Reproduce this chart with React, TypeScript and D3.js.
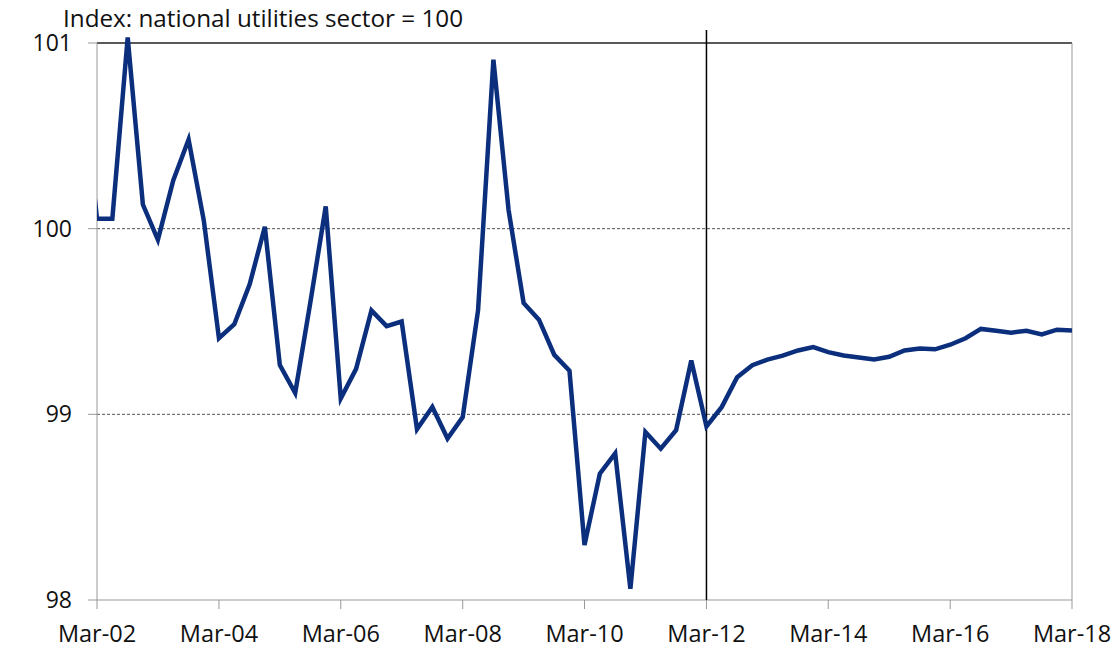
import React from 'react';
import * as d3 from 'd3';

// quarterly index values, Dec-01 .. Mar-18 (first one falls left of the axis and is clipped)
const firstQuarter = new Date(2001, 11, 1);
const indexValues = [
  100.8,
  100.054, 100.054, 101.03, 100.13,
  99.94, 100.26, 100.48, 100.045,
  99.41, 99.485, 99.7, 100.01,
  99.265, 99.115, 99.61, 100.12,
  99.085, 99.245, 99.56, 99.475,
  99.5, 98.92, 99.04, 98.87,
  98.985, 99.56, 100.91, 100.1,
  99.6, 99.51, 99.32, 99.235,
  98.296, 98.68, 98.79, 98.06,
  98.905, 98.815, 98.915, 99.29,
  98.935, 99.04, 99.2, 99.265,
  99.295, 99.316, 99.344, 99.362,
  99.335, 99.317, 99.306, 99.295,
  99.31, 99.344, 99.355, 99.35,
  99.375, 99.41, 99.46, 99.45,
  99.44, 99.45, 99.43, 99.456,
  99.452,
];
const yTicks = [98, 99, 100, 101];
const gridValues = [99, 100];
const xTickYears = [2002, 2004, 2006, 2008, 2010, 2012, 2014, 2016, 2018];
const markerYear = 2012;
const title = 'Index: national utilities sector = 100';

const W = 1119;
const H = 648;
const left = 97;
const right = 1072;
const top = 43;
const bottom = 600;
const font = "'Open Sans', 'Noto Sans', sans-serif";

const App: React.FC = () => {
  const x = d3.scaleTime()
    .domain([new Date(2002, 2, 1), new Date(2018, 2, 1)])
    .range([left, right]);
  const y = d3.scaleLinear().domain([98, 101]).range([bottom, top]);

  const points = indexValues.map((v, i) => ({
    date: d3.timeMonth.offset(firstQuarter, i * 3),
    value: v,
  }));

  const line = d3.line<{ date: Date; value: number }>()
    .x((d) => x(d.date))
    .y((d) => y(d.value));

  const markerX = x(new Date(markerYear, 2, 1));

  return (
    <svg width={W} height={H} style={{ position: 'absolute', left: 0, top: 0, background: '#fff' }}>
      <defs>
        <clipPath id="plot">
          <rect x={left} y={top - 6} width={right - left + 4} height={bottom - top + 6} />
        </clipPath>
      </defs>

      <text x={63} y={27} fontFamily={font} fontSize={24} fill="#111" textLength={400}
        lengthAdjust="spacingAndGlyphs">{title}</text>

      {gridValues.map((g) => (
        <line key={g} x1={left} x2={right} y1={y(g)} y2={y(g)}
          stroke="#555" strokeWidth={1} strokeDasharray="3,2" />
      ))}

      {/* frame */}
      <line x1={left} x2={right} y1={top} y2={top} stroke="#222" strokeWidth={1.3} />
      <line x1={right} x2={right} y1={top} y2={bottom} stroke="#999" strokeWidth={1} />
      <line x1={left} x2={left} y1={top} y2={bottom} stroke="#999" strokeWidth={1} />
      <line x1={left} x2={right} y1={bottom} y2={bottom} stroke="#999" strokeWidth={1} />

      {yTicks.map((t) => (
        <g key={t}>
          <line x1={left - 9} x2={left} y1={y(t)} y2={y(t)} stroke="#999" />
          <text x={72} y={y(t) + 8} textAnchor="end" fontFamily={font} fontSize={23} fill="#111">{t}</text>
        </g>
      ))}

      {xTickYears.map((yr) => {
        const tx = x(new Date(yr, 2, 1));
        return (
          <g key={yr}>
            <line x1={tx} x2={tx} y1={bottom} y2={bottom + 9} stroke="#999" />
            <text x={tx} y={642} textAnchor="middle" fontFamily={font} fontSize={23.5} fill="#111">
              {`Mar-${String(yr % 100).padStart(2, '0')}`}
            </text>
          </g>
        );
      })}

      <line x1={markerX} x2={markerX} y1={30} y2={bottom} stroke="#000" strokeWidth={1.5} />

      <path d={line(points) ?? ''} fill="none" stroke="#0b2f7d" strokeWidth={4.5}
        strokeLinejoin="miter" clipPath="url(#plot)" />
    </svg>
  );
};

export default App;
